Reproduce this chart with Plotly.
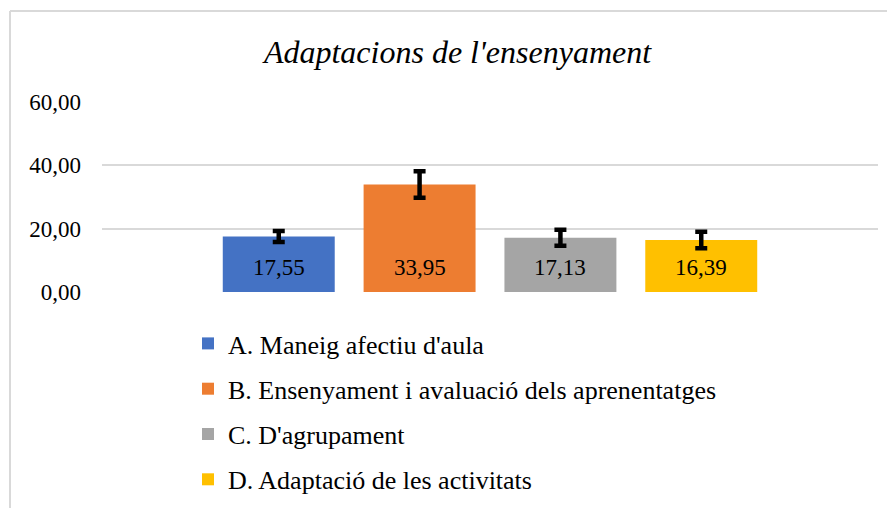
import plotly.graph_objects as go

title = "Adaptacions de l'ensenyament"
categories = ["A. Maneig afectiu d'aula",
              "B. Ensenyament i avaluació dels aprenentatges",
              "C. D'agrupament",
              "D. Adaptació de les activitats"]
values = [17.55, 33.95, 17.13, 16.39]
errors = [1.75, 4.2, 2.5, 2.6]
colors = ["#4472C4", "#ED7D31", "#A5A5A5", "#FFC000"]
y_ticks = [0, 20, 40, 60]

FONT = "Liberation Serif, Times New Roman, serif"

# figure is drawn inside the page's 8px body margin
W, H = 887, 500
L, T, PW, PH = 94, 94, 776, 190

fig = go.Figure()
for i, (cat, v, e, c) in enumerate(zip(categories, values, errors, colors)):
    fig.add_trace(go.Bar(
        x=[cat], y=[v], name=cat, marker_color=c, marker_line_width=0,
        width=0.795, legendgroup=f"g{i}",
        error_y=dict(type="data", array=[e], visible=True, color="black",
                     thickness=4.5, width=6),
    ))
    fig.add_annotation(x=cat, y=0, xref="x", yref="y",
                       text=f"{v:.2f}".replace(".", ","), showarrow=False,
                       yanchor="bottom", yshift=10,
                       font=dict(family=FONT, size=23, color="black"))

def px_x(x):
    return (x - L) / PW

def px_y(y):
    return (T + PH - y) / PH

fig.update_layout(
    width=W, height=H,
    margin=dict(l=L, r=W - L - PW, t=T, b=H - T - PH, autoexpand=False),
    paper_bgcolor="white", plot_bgcolor="white",
    barmode="overlay",
    separators=",.",
    font=dict(family=FONT, size=23, color="black"),
    title=dict(text=f"<i>{title}</i>", x=449.5 / W, xanchor="center",
               y=1 - 44 / H, yanchor="middle", xref="container", yref="container",
               font=dict(family=FONT, size=32, color="black")),
    xaxis=dict(showticklabels=False, showgrid=False, zeroline=False,
               range=[-1.255, 4.255], fixedrange=True),
    yaxis=dict(range=[0, 60], tickvals=y_ticks, tickformat=".2f",
               showgrid=True, gridcolor="#D9D9D9", gridwidth=1.5,
               zeroline=False, showline=False, ticks="",
               ticklabelstandoff=20,
               tickfont=dict(family=FONT, size=23, color="black")),
    showlegend=True,
    legend=dict(orientation="v", x=px_x(180), xanchor="left",
                y=px_y(312), yanchor="top",
                font=dict(family=FONT, size=26, color="black"),
                tracegroupgap=8.5, traceorder="grouped",
                bgcolor="rgba(0,0,0,0)", borderwidth=0),
    shapes=[
        dict(type="line", xref="paper", yref="paper",
             x0=px_x(2), x1=px_x(900), y0=px_y(3), y1=px_y(3),
             line=dict(color="#D9D9D9", width=2)),
        dict(type="line", xref="paper", yref="paper",
             x0=px_x(2), x1=px_x(2), y0=px_y(3), y1=px_y(510),
             line=dict(color="#D9D9D9", width=2)),
    ],
)

fig.write_html("out.html")
